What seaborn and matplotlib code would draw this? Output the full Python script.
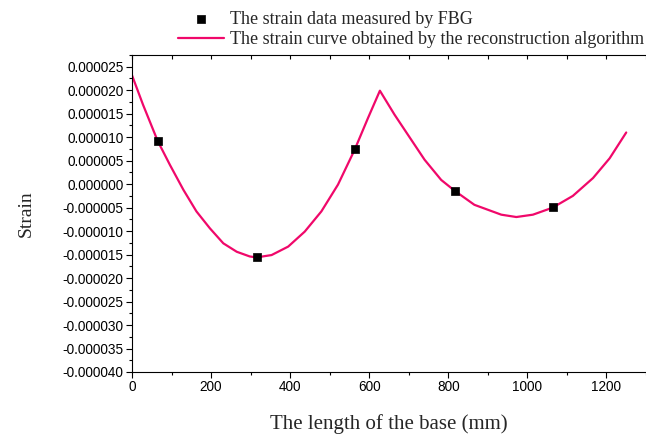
import numpy as np
import pandas as pd
import matplotlib
matplotlib.use("Agg")
import matplotlib.pyplot as plt
from matplotlib.ticker import MultipleLocator, FuncFormatter, NullFormatter
import seaborn as sns

sns.set_style("ticks")

# curve (x in mm, strain in 1e-6)
curve_x = [0, 28, 65, 96, 130, 163, 197, 231, 265, 298, 315, 353, 395, 437,
           479, 521, 563, 597, 627, 664, 698, 740, 782, 816, 866, 934, 972,
           1014, 1064, 1115, 1166, 1208, 1250]
curve_y = [23.2, 16.9, 9.2, 4.1, -1.2, -5.8, -9.4, -12.6, -14.4, -15.4, -15.6,
           -15.1, -13.3, -10.1, -5.8, -0.1, 7.3, 14.1, 19.9, 14.8, 10.5, 5.2,
           0.9, -1.4, -4.4, -6.5, -7.0, -6.5, -5.0, -2.5, 1.3, 5.5, 11.0]

# FBG measurement points
fbg_x = [65, 316, 563, 816, 1064]
fbg_y = [9.2, -15.6, 7.5, -1.4, -4.9]

curve = pd.DataFrame({"x": curve_x, "strain": np.array(curve_y) * 1e-6})
fbg = pd.DataFrame({"x": fbg_x, "strain": np.array(fbg_y) * 1e-6})

fig = plt.figure(figsize=(6.46, 4.38), dpi=100)
ax = fig.add_axes([0.2043, 0.1507, 0.7957, 0.7237])

sns.lineplot(data=curve, x="x", y="strain", ax=ax, color="#f0086a",
             linewidth=1.6, sort=False,
             label="The strain curve obtained by the reconstruction algorithm")
sns.scatterplot(data=fbg, x="x", y="strain", ax=ax, marker="s", s=26,
                color="black", edgecolor="black", linewidth=0.5, zorder=3,
                label="The strain data measured by FBG")

ax.set_xlim(0, 1300)
ax.set_ylim(-40e-6, 27.5e-6)
ax.xaxis.set_major_locator(MultipleLocator(200))
ax.xaxis.set_minor_locator(MultipleLocator(100))
ax.yaxis.set_major_locator(MultipleLocator(5e-6))
ax.yaxis.set_minor_locator(MultipleLocator(2.5e-6))


def fmt(v, pos):
    if abs(v) < 1e-12:
        v = 0.0
    return f"{v:.6f}"


ax.yaxis.set_major_formatter(FuncFormatter(fmt))
ax.tick_params(which="both", direction="out", color="black", width=0.8,
               labelsize=9.8, labelcolor="black", pad=2)
ax.tick_params(which="major", length=4)
ax.tick_params(which="minor", length=2.5)
for lab in ax.get_xticklabels() + ax.get_yticklabels():
    lab.set_family("Liberation Sans")

# top axis: inward ticks every 100, no labels
top = ax.secondary_xaxis("top")
top.xaxis.set_major_locator(MultipleLocator(100))
top.xaxis.set_major_formatter(NullFormatter())
top.tick_params(direction="in", length=3, width=0.8, color="black")
top.spines["top"].set_linewidth(0.8)
top.spines["top"].set_color("black")

ax.spines["right"].set_visible(False)
ax.spines["top"].set_visible(False)
for s in ["left", "bottom"]:
    ax.spines[s].set_color("black")
    ax.spines[s].set_linewidth(0.8)

ax.set_xlabel("The length of the base (mm)", family="Liberation Serif",
              fontsize=15, labelpad=14)
ax.set_ylabel("Strain", family="Liberation Serif", fontsize=14, labelpad=20)

handles, labels = ax.get_legend_handles_labels()
ax.legend_.remove()
fig.legend(handles[::-1], labels[::-1], loc="upper left",
           bbox_to_anchor=(0.258, 1.0), frameon=False,
           prop={"family": "Liberation Serif", "size": 13},
           handlelength=2.6, handletextpad=0.3, labelspacing=0.2,
           borderaxespad=0.2)

fig.savefig("out.png", dpi=100)
